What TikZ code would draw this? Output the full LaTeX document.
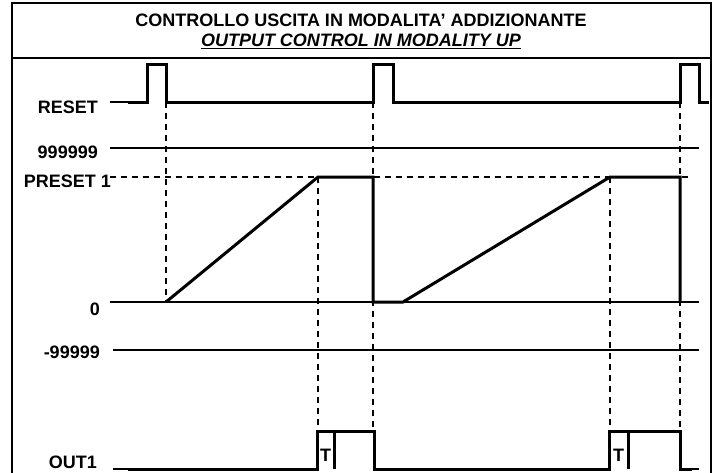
\documentclass[tikz,border=0pt]{standalone}
\usepackage{fontspec}
\setmainfont{Liberation Sans}
\usepackage{tikz}
\usetikzlibrary{positioning,calc}
\tikzset{
  frame/.style={line width=2pt},
  wave/.style={line width=3pt, line join=miter},
  level/.style={line width=1.5pt},
  guide/.style={line width=1.5pt, dash pattern=on 6pt off 5pt},
  lbl/.style={anchor=east, inner sep=0pt, font=\fontsize{18}{20}\selectfont\bfseries},
  ttl/.style={inner sep=0pt, font=\fontsize{18}{20}\selectfont\bfseries}
}

\begin{document}
\begin{tikzpicture}[x=1pt, y=-1pt]
    \clip (0,0) rectangle (716,472);
    \fill[white] (0,0) rectangle (716,472);

    % frame and title
    \draw[frame] (12,490) -- (12,3) -- (711,3) -- (711,490);
    \draw[frame] (12,58) -- (711,58);
    \node[ttl] (title) at (361,20) {CONTROLLO USCITA IN MODALITA’ ADDIZIONANTE};
    \node[ttl, below=7pt of title] (subtitle) {\itshape\underline{OUTPUT CONTROL IN MODALITY UP}};

    % time marks
    \coordinate (tR1) at (166,0);
    \coordinate (tP1) at (318,0);
    \coordinate (tR2) at (373,0);
    \coordinate (tS2) at (403,0);
    \coordinate (tP2) at (610,0);
    \coordinate (tR3) at (680,0);

    % levels
    \coordinate (yReset) at (0,102);
    \coordinate (yMax) at (0,148);
    \coordinate (yPre) at (0,177);
    \coordinate (yZero) at (0,302);
    \coordinate (yMin) at (0,350);
    \coordinate (yOut) at (0,469);

    % labels
    \node[lbl] (lreset) at (98,107) {RESET};
    \node[lbl] (lmax) at (98,152) {999999};
    \node[lbl] (lpre) at (111,181) {PRESET 1};
    \node[lbl] (lzero) at (100,309) {0};
    \node[lbl] (lmin) at (100,352) {-99999};
    \node[lbl] (lout) at (97,462) {OUT1};

    % reference lines
    \draw[level] (110,148) -- (699,148);
    \draw[guide] (110,177) -- (692,177);
    \draw[level] (110,302) -- (699,302);
    \draw[level] (113,350) -- (699,350);

    % dashed verticals
    \draw[guide] (tR1 |- yReset) -- (tR1 |- yZero);
    \draw[guide] (tR2 |- yReset) -- (373,431);
    \draw[guide] (tP1 |- yPre) -- (318,431);
    \draw[guide] (tP2 |- yPre) -- (610,431);
    \draw[guide] (tR3 |- yReset) -- (680,431);

    % RESET
    \draw[level] (110,102) -- (128,102);
    \draw[wave] (128,102) -- (147,102) -- (147,64) -- (166,64) -- (166,102)
      -- (373,102) -- (373,64) -- (393,64) -- (393,102)
      -- (680,102) -- (680,64) -- (699,64) -- (699,102) -- (709,102);

    % counter
    \draw[wave] (tR1 |- yZero) -- (tP1 |- yPre) -- (tR2 |- yPre) -- (tR2 |- yZero)
      -- (tS2 |- yZero) -- (tP2 |- yPre) -- (tR3 |- yPre) -- (tR3 |- yZero);

    % OUT1
    \draw[level] (113,469) -- (128,469);
    \draw[level] (692,469) -- (699,469);
    \draw[wave] (128,469) -- (317,469) -- (317,431) -- (374,431) -- (374,469)
      -- (609,469) -- (609,431) -- (680,431) -- (680,469) -- (692,469);
    \draw[wave] (334,431) -- (334,469);
    \draw[wave] (628,431) -- (628,469);
    \node[ttl] (t1) at (325.5,455) {T};
    \node[ttl] (t2) at (618.5,455) {T};
\end{tikzpicture}
\end{document}
